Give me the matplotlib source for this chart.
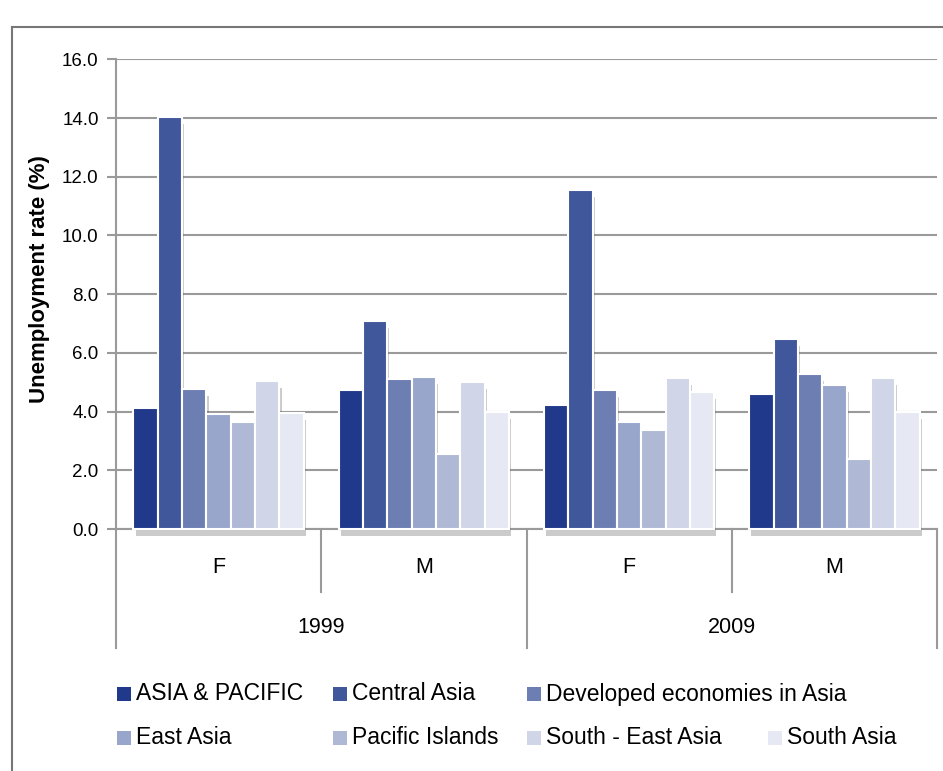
import matplotlib
matplotlib.use('Agg')
import matplotlib.pyplot as plt
import matplotlib.patheffects as pe
from matplotlib.lines import Line2D
from matplotlib.patches import Rectangle
import numpy as np

# groups along the x axis
sexes = ['F', 'M', 'F', 'M']
years = ['1999', '2009']

series_names = ['ASIA & PACIFIC', 'Central Asia', 'Developed economies in Asia',
                'East Asia', 'Pacific Islands', 'South - East Asia', 'South Asia']
series_colors = ['#21398b', '#40579c', '#6d7eb2', '#99a6cb', '#afb9d6', '#d0d6e8', '#e6e9f3']

# unemployment rate (%) for F-1999, M-1999, F-2009, M-2009
asia_pacific = [4.13, 4.73, 4.21, 4.60]
central_asia = [14.03, 7.10, 11.56, 6.47]
developed_asia = [4.77, 5.10, 4.73, 5.28]
east_asia = [3.92, 5.19, 3.63, 4.89]
pacific_islands = [3.63, 2.57, 3.38, 2.38]
south_east_asia = [5.03, 5.01, 5.14, 5.15]
south_asia = [3.94, 4.00, 4.67, 3.97]

series_values = [asia_pacific, central_asia, developed_asia, east_asia,
                 pacific_islands, south_east_asia, south_asia]

yticks = [0, 2, 4, 6, 8, 10, 12, 14, 16]

plt.rcParams['font.family'] = ['Liberation Sans', 'DejaVu Sans']
W, H = 943, 771
fig = plt.figure(figsize=(W / 100, H / 100), dpi=100)
ax = fig.add_axes([116 / W, 1 - 529 / H, 821 / W, 469.7 / H])

grey = '#9a9a9a'
x = np.arange(len(sexes))
bw = 0.1185
shadow = [pe.SimplePatchShadow(offset=(1.5, -5), shadow_rgbFace='#555555', alpha=0.3), pe.Normal()]
for i, (vals, col) in enumerate(zip(series_values, series_colors)):
    bars = ax.bar(x + (i - 3) * bw, vals, width=bw, color=col, edgecolor='white',
                  linewidth=1.5, zorder=3, clip_on=False)
    for b in bars:
        b.set_path_effects(shadow)

ax.set_xlim(-0.5, len(sexes) - 0.5)
ax.set_ylim(0, 16)
ax.set_yticks(yticks)
ax.set_yticklabels([f'{v:.1f}' for v in yticks], fontsize=13.5)
ax.yaxis.grid(True, color=grey, linewidth=1.5, zorder=0)
ax.set_axisbelow(True)
ax.tick_params(axis='y', length=6.5, width=1.5, color=grey, pad=6)
ax.set_xticks([])
for s in ['top', 'right']:
    ax.spines[s].set_visible(False)
ax.spines['left'].set_color(grey)
ax.spines['left'].set_linewidth(1.5)
ax.spines['bottom'].set_color(grey)
ax.spines['bottom'].set_linewidth(1.5)

ax.set_ylabel('Unemployment rate (%)', fontsize=16, fontweight='bold')
ax.yaxis.label.set(ha='center', va='center')
ax.yaxis.set_label_coords(-0.093, 0.533)

# two-level category axis below the plot
tr = ax.get_xaxis_transform()
for xb in [-0.5, 1.5, 3.5]:
    ax.add_line(Line2D([xb, xb], [0, -0.253], color=grey, lw=1.5, transform=tr, clip_on=False))
for xb in [0.5, 2.5]:
    ax.add_line(Line2D([xb, xb], [0, -0.134], color=grey, lw=1.5, transform=tr, clip_on=False))
for xi, s in zip(x, sexes):
    ax.text(xi, -0.083, s, transform=tr, ha='center', va='center', fontsize=15.5)
for j, yr in enumerate(years):
    ax.text(2 * j + 0.5, -0.209, yr, transform=tr, ha='center', va='center', fontsize=15.5)

# outer frame (cut off at right/bottom)
fig.add_artist(Line2D([12 / W, 12 / W], [0, 1 - 27 / H], color='#777777', lw=1.5))
fig.add_artist(Line2D([12 / W, 1], [1 - 27 / H, 1 - 27 / H], color='#777777', lw=1.5))

# legend drawn by hand to match its irregular layout
leg_pos = [(117, 694), (333, 694), (527, 694), (117, 738), (333, 738), (527, 738), (768, 738)]
for (px, py), name, col in zip(leg_pos, series_names, series_colors):
    fig.add_artist(Rectangle((px / W, 1 - (py + 7) / H), 14 / W, 14 / H,
                             transform=fig.transFigure, facecolor=col, edgecolor='none'))
    fig.text((px + 19) / W, 1 - py / H, name, ha='left', va='center', fontsize=16.5)

fig.savefig('out.png', dpi=100)
